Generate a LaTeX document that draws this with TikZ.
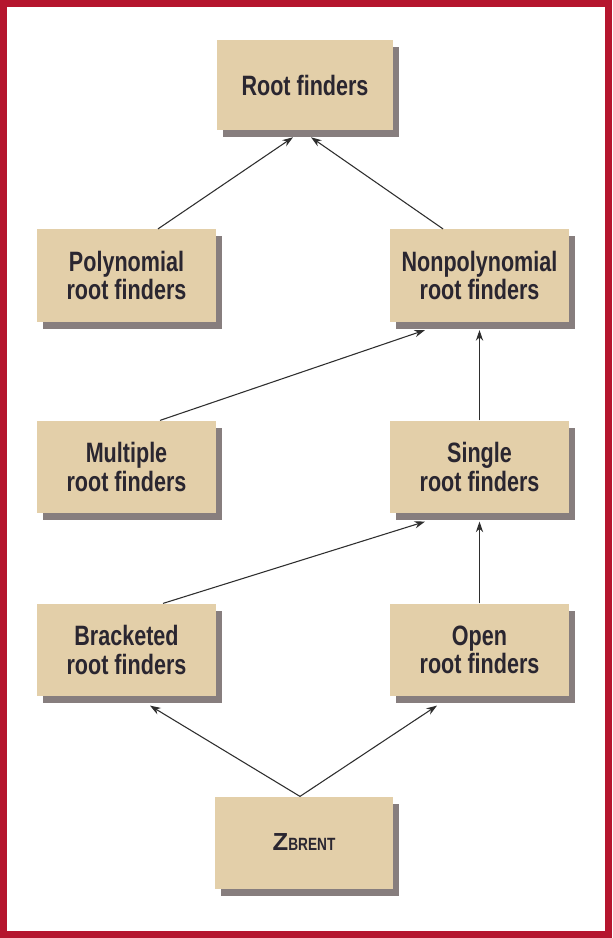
\documentclass[tikz,border=0pt]{standalone}
\usepackage{fontspec}
\setmainfont[FakeStretch=0.77]{Liberation Sans}
\usetikzlibrary{arrows.meta,calc,shadows}
\definecolor{frame}{HTML}{B5152E}
\definecolor{boxfill}{HTML}{E3CFA9}
\definecolor{shadowc}{HTML}{877E7E}
\definecolor{txt}{HTML}{2A2630}
\definecolor{arrc}{HTML}{2E2E2E}
\begin{document}
\begin{tikzpicture}[x=0.75pt,y=-0.75pt,
  box/.style={rectangle, fill=boxfill, minimum width=134.25pt, minimum height=69.5pt,
    inner sep=0pt, align=center, text=txt,
    font=\bfseries\fontsize{21}{21.5}\selectfont,
    drop shadow={opacity=1, fill=shadowc, shadow xshift=4.5pt, shadow yshift=-5.25pt}},
  arr/.style={draw=arrc, line width=0.8pt, -{Stealth[length=8pt,width=5.5pt]}}]
\useasboundingbox (0,0) rectangle (612,938);
\fill[white] (0,0) rectangle (612,938);
\draw[frame, line width=5.25pt] (3.5,3.5) rectangle (608.5,934.5);

\node[box, minimum height=67.5pt, minimum width=132pt] (root) at (305,85) {Root finders};
\node[box] (poly) at (126.5,275.5) {Polynomial\\root finders};
\node[box] (nonpoly) at (479.5,275.5) {Nonpolynomial\\root finders};
\node[box] (mult) at (126.5,467) {Multiple\\root finders};
\node[box] (single) at (479.5,467) {Single\\root finders};
\node[box] (brack) at (126.5,650) {Bracketed\\root finders};
\node[box] (open) at (479.5,650) {Open\\root finders};
\node[box, minimum width=133.5pt] (zb) at (304,843) {\raisebox{2pt}{\fontsize{18.5}{20}\selectfont\scalebox{1.35}[1]{Z}\fontsize{13.3}{14}\selectfont BRENT}};

\draw[arr] ($(poly.north)+(31.5,0)$) -- ($(root.south)+(-12,7)$);
\draw[arr] ($(nonpoly.north)+(-36.5,0)$) -- ($(root.south)+(6,7)$);
\draw[arr] ($(mult.north)+(33.5,0)$) -- ($(nonpoly.south)+(-54.5,8)$);
\draw[arr] (single.north) -- ($(nonpoly.south)+(0,8)$);
\draw[arr] ($(brack.north)+(36.5,0)$) -- ($(single.south)+(-54.5,8)$);
\draw[arr] (open.north) -- ($(single.south)+(0,8)$);
\draw[arr] ($(zb.north)+(-4,0)$) -- ($(brack.south)+(23.5,9)$);
\draw[arr] ($(zb.north)+(-4,0)$) -- ($(open.south)+(-42.5,9)$);
\end{tikzpicture}
\end{document}
